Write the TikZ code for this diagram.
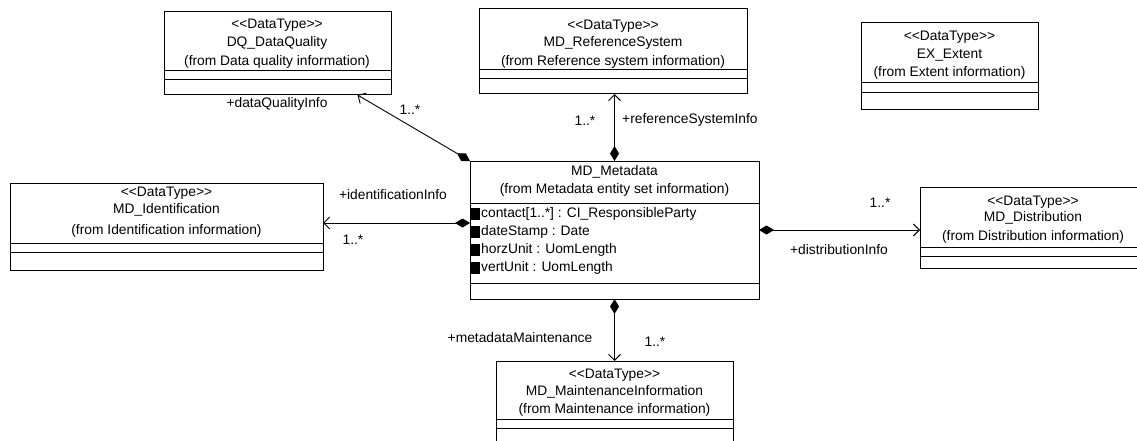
\documentclass[tikz,border=0pt]{standalone}
\usepackage{fontspec}
\setmainfont{Liberation Sans}
\usetikzlibrary{arrows.meta}
\newcommand{\stereo}{<\kern0pt<DataType>\kern0pt>}
\begin{document}
\begin{tikzpicture}[x=1pt,y=-1pt,
  cls/.style={draw, line width=1pt, anchor=north west, inner sep=0pt, outer sep=0pt},
  txt/.style={font=\fontsize{13.8}{16}\selectfont, inner sep=0pt},
  sepline/.style={line width=1pt},
  assoc/.style={line width=0.9pt, {Diamond[length=15pt,width=9pt]}-{Straight Barb[length=6pt,width=12pt]}},
  icon/.style={fill=black}]
\path[use as bounding box, clip] (0,0) rectangle (1137,441);

% DQ_DataQuality
\node[cls, minimum width=227pt, minimum height=83pt] (dq) at (164,12) {};
\draw[sepline] (164,71) -- (391,71);
\draw[sepline] (164,80) -- (391,80);
\node[txt] (dq1) at (277,25) {\stereo};
\node[txt] (dq2) at (277,43) {DQ\_DataQuality};
\node[txt] (dq3) at (277,62) {(from Data quality information)};

% MD_ReferenceSystem
\node[cls, minimum width=268pt, minimum height=85pt] (rs) at (479,9) {};
\draw[sepline] (479,70) -- (747,70);
\draw[sepline] (479,79) -- (747,79);
\node[txt] (rs1) at (613,26) {\stereo};
\node[txt] (rs2) at (613,43) {MD\_ReferenceSystem};
\node[txt] (rs3) at (613,62) {(from Reference system information)};

% EX_Extent
\node[cls, minimum width=177pt, minimum height=87pt] (ex) at (861,23) {};
\draw[sepline] (861,83) -- (1038,83);
\draw[sepline] (861,93) -- (1038,93);
\node[txt] (ex1) at (949.5,37) {\stereo};
\node[txt] (ex2) at (949.5,55) {EX\_Extent};
\node[txt] (ex3) at (949.5,73) {(from Extent information)};

% MD_Identification
\node[cls, minimum width=313pt, minimum height=87pt] (id) at (10,183) {};
\draw[sepline] (10,243) -- (323,243);
\draw[sepline] (10,252) -- (323,252);
\node[txt] (id1) at (166.5,193) {\stereo};
\node[txt] (id2) at (166.5,210) {MD\_Identification};
\node[txt] (id3) at (166.5,231) {(from Identification information)};

% MD_Distribution
\node[cls, minimum width=226pt, minimum height=81pt] (di) at (920,187) {};
\draw[sepline] (920,247) -- (1146,247);
\draw[sepline] (920,256) -- (1146,256);
\node[txt] (di1) at (1033,202) {\stereo};
\node[txt] (di2) at (1033,218) {MD\_Distribution};
\node[txt] (di3) at (1033,237) {(from Distribution information)};

% MD_MaintenanceInformation
\node[cls, minimum width=237pt, minimum height=90pt] (mi) at (496,361) {};
\draw[sepline] (496,419) -- (733,419);
\draw[sepline] (496,428) -- (733,428);
\node[txt] (mi1) at (614.5,375) {\stereo};
\node[txt] (mi2) at (614.5,392) {MD\_MaintenanceInformation};
\node[txt] (mi3) at (614.5,410) {(from Maintenance information)};

% MD_Metadata
\node[cls, minimum width=289pt, minimum height=138pt] (md) at (470,161) {};
\draw[sepline] (470,203) -- (759,203);
\draw[sepline] (470,283) -- (759,283);
\node[txt] (md1) at (614.5,172) {MD\_Metadata};
\node[txt] (md2) at (614.5,190) {(from Metadata entity set information)};
\fill[icon] (471,208) rectangle (480,220);
\fill[icon] (471,226) rectangle (480,238);
\fill[icon] (471,244) rectangle (480,256);
\fill[icon] (471,262) rectangle (480,274);
\node[txt, anchor=west] (a1) at (481,214) {contact[1..*] : CI\_ResponsibleParty};
\node[txt, anchor=west] (a2) at (481,232) {dateStamp : Date};
\node[txt, anchor=west] (a3) at (481,250) {horzUnit : UomLength};
\node[txt, anchor=west] (a4) at (481,268) {vertUnit : UomLength};

% connectors
\draw[assoc] (md.north west) -- ([xshift=80pt]dq.south);
\draw[assoc] (md.north) -- (md.north |- rs.south);
\draw[assoc] (md.west |- 0,223) -- (id.east |- 0,223);
\draw[assoc] (md.east |- 0,230) -- (di.west |- 0,230);
\draw[assoc] (md.south) -- (md.south |- mi.north);

% labels
\node[txt] (l1) at (277,104) {+dataQualityInfo};
\node[txt] (l2) at (410,110) {1..*};
\node[txt] (l3) at (585,121) {1..*};
\node[txt, anchor=west] (l4) at (622,120) {+referenceSystemInfo};
\node[txt] (l5) at (393,195) {+identificationInfo};
\node[txt] (l6) at (353,240) {1..*};
\node[txt] (l7) at (880,203) {1..*};
\node[txt] (l8) at (839,250) {+distributionInfo};
\node[txt] (l9) at (520,338) {+metadataMaintenance};
\node[txt] (l10) at (655,342) {1..*};
\end{tikzpicture}
\end{document}
